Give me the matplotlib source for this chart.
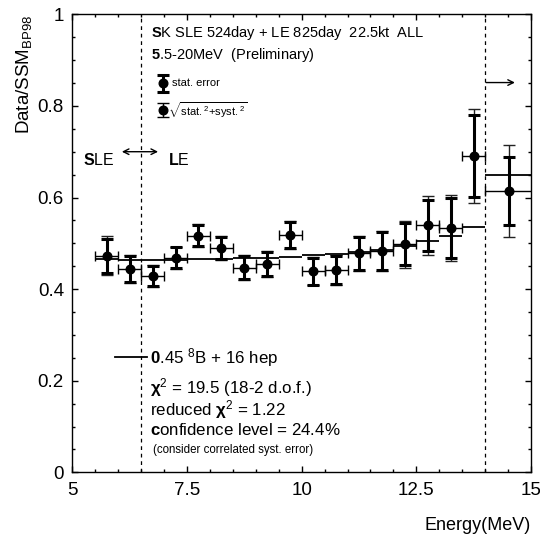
import numpy as np
import matplotlib
matplotlib.use("Agg")
import matplotlib.pyplot as plt

plt.rcParams['font.family'] = ['Liberation Sans', 'DejaVu Sans']
plt.rcParams['mathtext.fontset'] = 'custom'
plt.rcParams['mathtext.rm'] = 'Liberation Sans'
plt.rcParams['mathtext.it'] = 'Liberation Sans'
plt.rcParams['mathtext.bf'] = 'Liberation Sans:bold'

# ---- data ----
energy = [5.75, 6.25, 6.75, 7.25, 7.75, 8.25, 8.75, 9.25, 9.75, 10.25,
          10.75, 11.25, 11.75, 12.25, 12.75, 13.25, 13.75, 14.52]
bin_lo = [5.5, 6.0, 6.5, 7.0, 7.5, 8.0, 8.5, 9.0, 9.5, 10.0,
          10.5, 11.0, 11.5, 12.0, 12.5, 13.0, 13.5, 14.0]
bin_hi = [6.0, 6.5, 7.0, 7.5, 8.0, 8.5, 9.0, 9.5, 10.0, 10.5,
          11.0, 11.5, 12.0, 12.5, 13.0, 13.5, 14.0, 20.0]
ratio = [0.473, 0.444, 0.429, 0.469, 0.517, 0.489, 0.447, 0.455, 0.518, 0.439,
         0.442, 0.478, 0.483, 0.498, 0.539, 0.533, 0.691, 0.614]
stat_err = [0.037, 0.029, 0.022, 0.022, 0.023, 0.024, 0.025, 0.026, 0.028, 0.029,
            0.031, 0.036, 0.041, 0.046, 0.056, 0.065, 0.089, 0.075]
tot_err = [0.042, 0.031, 0.024, 0.024, 0.025, 0.026, 0.027, 0.028, 0.030, 0.031,
           0.033, 0.039, 0.044, 0.051, 0.064, 0.072, 0.102, 0.100]
fit = [0.466, 0.464, 0.463, 0.464, 0.465, 0.466, 0.467, 0.468, 0.470, 0.474,
       0.477, 0.481, 0.486, 0.495, 0.505, 0.517, 0.536, 0.649]
boundaries = [6.5, 14.0]
xticks = [5, 7.5, 10, 12.5, 15]
xticklabels = ['5', '7.5', '10', '12.5', '15']
yticks = [0, 0.2, 0.4, 0.6, 0.8, 1.0]
yticklabels = ['0', '0.2', '0.4', '0.6', '0.8', '1']

E = np.array(energy)
R = np.array(ratio)
lo = np.array(bin_lo)
hi = np.array(bin_hi)

fig = plt.figure(figsize=(5.40, 5.38), dpi=100)
ax = fig.add_axes([0.1339, 0.1221, 0.8494, 0.8513])
ax.set_xlim(5, 15)
ax.set_ylim(0, 1)

# fit histogram (horizontal steps)
ax.hlines(fit, lo, hi, colors='black', lw=1.3, zorder=2)

# boundaries
for b in boundaries:
    ax.axvline(b, color='black', lw=0.9, ls=(0, (3, 3)), zorder=1)

# horizontal error bars
ax.errorbar(E, R, xerr=[E - lo, hi - E], fmt='none', ecolor='black',
            elinewidth=1.0, capsize=3.5, capthick=1.0, zorder=3)
# total errors
ax.errorbar(E, R, yerr=tot_err, fmt='none', ecolor='#222222',
            elinewidth=1.0, capsize=4.5, capthick=1.0, zorder=3)
# stat errors
ax.errorbar(E, R, yerr=stat_err, fmt='none', ecolor='black',
            elinewidth=2.2, capsize=4.0, capthick=2.2, zorder=4)
ax.plot(E, R, 'o', color='black', ms=6.2, zorder=5)

# ---- axes styling ----
ax.set_xticks(xticks)
ax.set_xticklabels(xticklabels)
ax.set_yticks(yticks)
ax.set_yticklabels(yticklabels)
ax.xaxis.set_minor_locator(matplotlib.ticker.MultipleLocator(0.5))
ax.yaxis.set_minor_locator(matplotlib.ticker.MultipleLocator(0.05))
ax.tick_params(which='both', direction='in', top=True, right=True, width=1.0)
ax.tick_params(which='major', length=4.5, labelsize=13.5)
ax.tick_params(axis='x', which='major', pad=7)
ax.tick_params(axis='y', which='major', pad=6)
ax.tick_params(which='minor', length=2.5)
for s in ax.spines.values():
    s.set_linewidth(1.0)

fig.text(0.044, 0.972, r'Data/SSM$_{\mathrm{BP98}}$', rotation=90,
         ha='center', va='top', fontsize=13.5)
fig.text(0.983, 0.024, 'Energy(MeV)', ha='right', va='center', fontsize=13)

# ---- annotations ----
T = ax.transAxes
ax.text(0.171, 0.960, r'$\mathbf{S}$K SLE 524day + LE 825day  22.5kt  ALL',
        transform=T, fontsize=10.5, va='center', ha='left')
ax.text(0.171, 0.911, r'$\mathbf{5}$.5-20MeV  (Preliminary)',
        transform=T, fontsize=10.5, va='center', ha='left')

# legend samples
lx = 5 + 0.198 * 10
ax.errorbar([lx], [0.849], yerr=[0.018], fmt='o', color='black', ms=6.2,
            elinewidth=2.2, capsize=4.0, capthick=2.2, zorder=5)
ax.text(0.217, 0.849, 'stat. error', transform=T, fontsize=8, va='center')
ax.errorbar([lx], [0.791], yerr=[0.015], fmt='o', color='black', ms=6.2,
            elinewidth=1.0, capsize=4.0, capthick=1.0, zorder=5)
ax.text(0.208, 0.791, r'$\sqrt{\mathrm{stat.}^{2}\mathrm{+syst.}^{2}}$',
        transform=T, fontsize=8, va='center')

# SLE <-> LE
ax.text(0.023, 0.682, r'$\mathbf{S}$LE', transform=T, fontsize=11.5, va='center')
ax.text(0.209, 0.682, r'$\mathbf{L}$E', transform=T, fontsize=11.5, va='center')
ax.annotate('', xy=(0.187, 0.700), xytext=(0.108, 0.700), xycoords=T,
            arrowprops=dict(arrowstyle='<->', lw=1.0, color='black',
                            shrinkA=0, shrinkB=0, mutation_scale=10))
ax.annotate('', xy=(0.965, 0.851), xytext=(0.902, 0.851), xycoords=T,
            arrowprops=dict(arrowstyle='->', lw=1.0, color='black',
                            shrinkA=0, shrinkB=0, mutation_scale=10))

# fit legend and chi2 text
ax.plot([0.093, 0.163], [0.251, 0.251], transform=T, color='black', lw=1.3)
ax.text(0.169, 0.251, r'$\mathbf{0}$.45 $^{8}$B + 16 hep', transform=T,
        fontsize=12.2, va='center')
ax.text(0.169, 0.186, r'$\mathbf{\chi}^{2}$ = 19.5 (18-2 d.o.f.)', transform=T,
        fontsize=12.2, va='center')
ax.text(0.169, 0.138, r'reduced $\mathbf{\chi}^{2}$ = 1.22', transform=T,
        fontsize=12.2, va='center')
ax.text(0.169, 0.092, r'$\mathbf{c}$onfidence level = 24.4%', transform=T,
        fontsize=12.2, va='center')
ax.text(0.176, 0.049, '(consider correlated syst. error)', transform=T,
        fontsize=8.3, va='center')

fig.savefig('out.png', dpi=100)
